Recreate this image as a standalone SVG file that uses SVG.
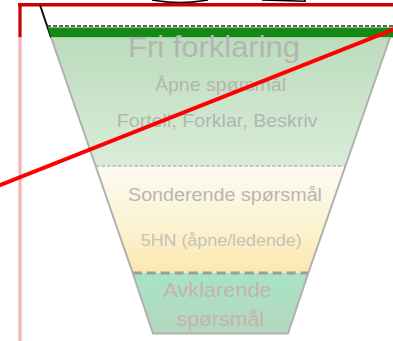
<svg xmlns="http://www.w3.org/2000/svg" width="393" height="341" viewBox="0 0 393 341">
<style>
text{font-family:"Liberation Sans",Arial,sans-serif;text-anchor:start}
.lbl{fill:#b2b6b2}
.edge{fill:none;stroke:#b0b0b0;stroke-width:2}
</style>
<defs>
<linearGradient id="gGreen" x1="0" y1="0" x2="0" y2="1">
<stop offset="0" stop-color="#bcdcbc"/>
<stop offset="1" stop-color="#d9ecd9"/>
</linearGradient>
<linearGradient id="gYellow" x1="0" y1="0" x2="0" y2="1">
<stop offset="0" stop-color="#fdfaf0"/>
<stop offset="0.5" stop-color="#fcf4d6"/>
<stop offset="1" stop-color="#fbe8ae"/>
</linearGradient>
<linearGradient id="gTeal" x1="0" y1="0" x2="0" y2="1">
<stop offset="0" stop-color="#a7e4c4"/>
<stop offset="1" stop-color="#b6d6c0"/>
</linearGradient>
</defs>
<rect width="393" height="341" fill="#ffffff"/>

<g id="top-shape">
<path d="M152,0 Q180,5 208,0" fill="none" stroke="#000" stroke-width="1.6"/>
<path d="M262,0 L305,1.3 L305,0" fill="none" stroke="#000" stroke-width="1.6"/>
</g>

<g id="frame">
<line x1="18" y1="4.8" x2="393" y2="4.8" stroke="#cc0000" stroke-width="3.4"/>
<line x1="20" y1="3.1" x2="20" y2="37.5" stroke="#cc0000" stroke-width="3.2"/>
<line x1="20" y1="37.5" x2="20" y2="341" stroke="#f4b6b6" stroke-width="3.2"/>
</g>

<g id="band-top">
<line x1="40" y1="5" x2="51" y2="37.5" stroke="#111" stroke-width="2"/>
<line x1="47" y1="26" x2="393" y2="26" stroke="#333" stroke-width="1.5" stroke-dasharray="4 2"/>
<polygon points="47.7,27.5 393,27.5 393,37.5 51.1,37.5" fill="#138a13"/>
</g>

<g id="band-open">
<polygon points="51.1,37.5 393,37.5 390,37.5 345,166 96,166" fill="url(#gGreen)"/>
<text class="lbl" x="128" y="56.7" font-size="29" textLength="172" lengthAdjust="spacingAndGlyphs" fill="#adb1ad">Fri forklaring</text>
<text class="lbl" x="155" y="90.7" font-size="18.5" textLength="131" lengthAdjust="spacingAndGlyphs">Åpne spørsmål</text>
<text class="lbl" x="116.7" y="126.7" font-size="18.5" textLength="201" lengthAdjust="spacingAndGlyphs">Fortell, Forklar, Beskriv</text>
</g>

<g id="band-probe">
<polygon points="96,166 345,166 308.3,273 132.7,273" fill="url(#gYellow)"/>
<text x="128" y="200.7" font-size="18" textLength="194" lengthAdjust="spacingAndGlyphs" fill="#b6b6b4">Sonderende spørsmål</text>
<text x="140.7" y="245.5" font-size="17" textLength="161" lengthAdjust="spacingAndGlyphs" fill="#c6c2b6">5HN (åpne/ledende)</text>
</g>

<g id="band-clarify">
<polygon points="132.7,273 308.3,273 288,333.5 153,333.5" fill="url(#gTeal)"/>
<text x="163.3" y="297.3" font-size="20.5" textLength="108.4" lengthAdjust="spacingAndGlyphs" fill="#c6b2b2">Avklarende</text>
<text x="176.7" y="325.7" font-size="20.5" textLength="87.3" lengthAdjust="spacingAndGlyphs" fill="#c6b2b2">spørsmål</text>
</g>

<g id="connectors">
<line x1="96" y1="166" x2="345" y2="166" stroke="#b8b8b8" stroke-width="1.4" stroke-dasharray="3.5 2"/>
<line x1="132.7" y1="273" x2="308.3" y2="273" stroke="#9c9c9c" stroke-width="3" stroke-dasharray="9 5"/>
<polyline class="edge" points="51.1,37.5 132.7,273"/>
<polyline class="edge" points="390,37.5 308.3,273"/>
<polyline class="edge" points="132.7,273 153,333.5 288,333.5 308.3,273" stroke="#c4acac"/>
<line x1="-10" y1="189" x2="403" y2="25.6" stroke="#ff0000" stroke-width="4"/>
</g>
</svg>
